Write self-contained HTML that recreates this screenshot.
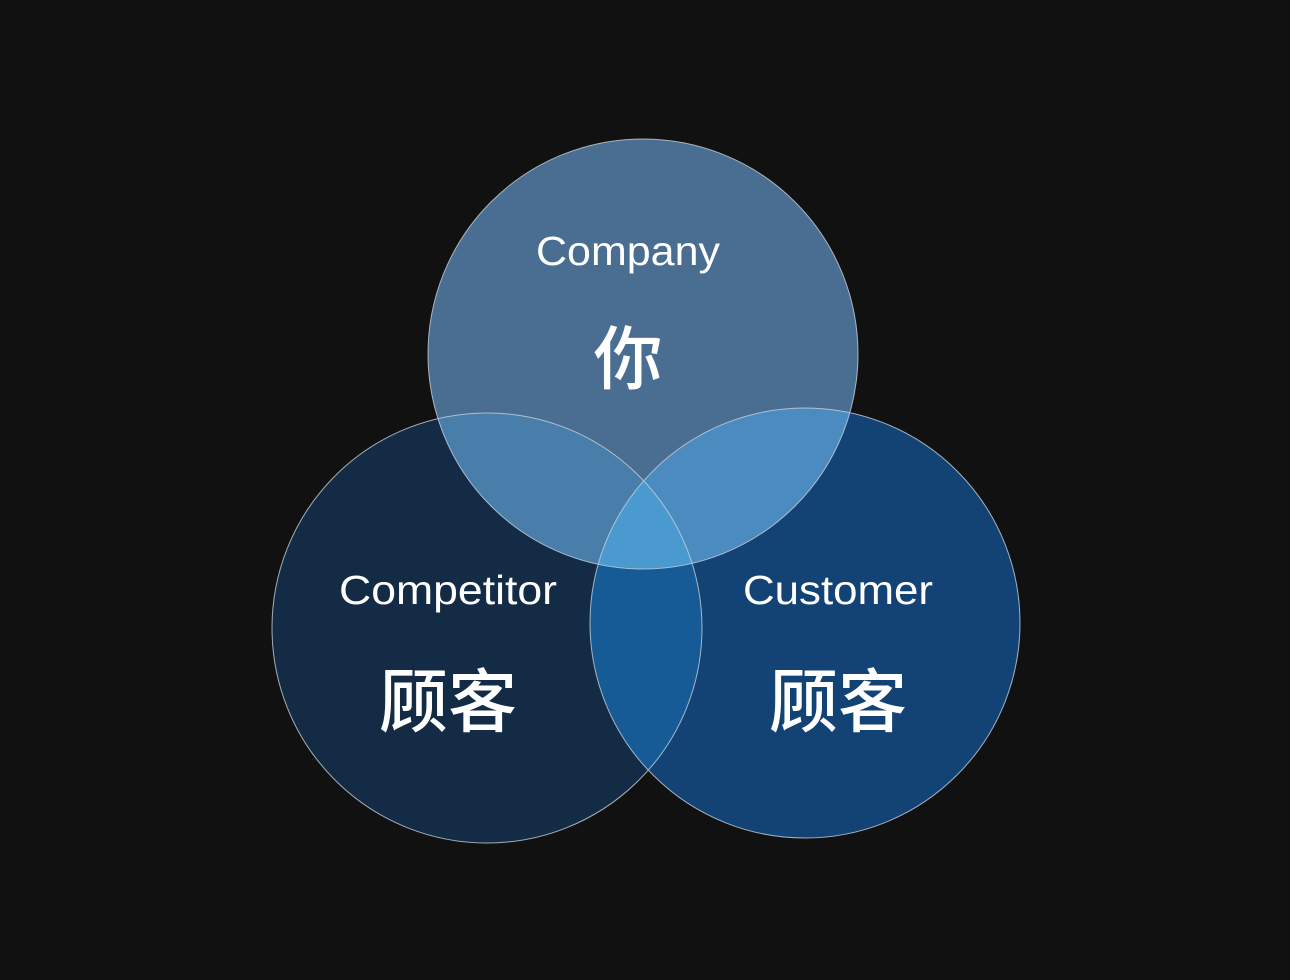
<!DOCTYPE html>
<html><head><meta charset="utf-8"><style>
html,body{margin:0;padding:0;background:#111111;}
svg{display:block}
</style></head><body>
<svg width="1290" height="980" viewBox="0 0 1290 980" xmlns="http://www.w3.org/2000/svg">
<defs>
<clipPath id="cT"><circle cx="643" cy="354" r="215"/></clipPath>
<clipPath id="cL"><circle cx="487" cy="628" r="215"/></clipPath>
<clipPath id="cR"><circle cx="805" cy="623" r="215"/></clipPath>
</defs>
<rect width="1290" height="980" fill="#111111"/>
<circle cx="487" cy="628" r="215" fill="#142b46"/>
<circle cx="805" cy="623" r="215" fill="#134274"/>
<circle cx="643" cy="354" r="215" fill="#4a6d92"/>
<g clip-path="url(#cT)"><circle cx="487" cy="628" r="215" fill="#4a7eaa"/><circle cx="805" cy="623" r="215" fill="#4b8bc0"/></g>
<g clip-path="url(#cL)"><circle cx="805" cy="623" r="215" fill="#165a96"/></g>
<g clip-path="url(#cL)"><g clip-path="url(#cT)"><circle cx="805" cy="623" r="215" fill="#4a9ad0"/></g></g>
<g fill="none" stroke="#c8d2dc" stroke-width="1" opacity="0.8">
<circle cx="643" cy="354" r="215"/><circle cx="487" cy="628" r="215"/><circle cx="805" cy="623" r="215"/>
</g>
<g fill="#ffffff" font-family="Liberation Sans, Noto Sans CJK SC, sans-serif">
<text x="536" y="265" font-size="41" textLength="184" lengthAdjust="spacingAndGlyphs">Company</text>
<text x="339" y="604" font-size="41" textLength="218" lengthAdjust="spacingAndGlyphs">Competitor</text>
<text x="743" y="604" font-size="41" textLength="190" lengthAdjust="spacingAndGlyphs">Customer</text>
</g>
<g fill="#ffffff" text-anchor="middle" font-family="Noto Sans CJK SC, sans-serif" font-weight="500" font-size="69">
<text x="628" y="383">你</text>
<text x="448" y="726">顾客</text>
<text x="838" y="726">顾客</text>
</g>
</svg>
</body></html>
